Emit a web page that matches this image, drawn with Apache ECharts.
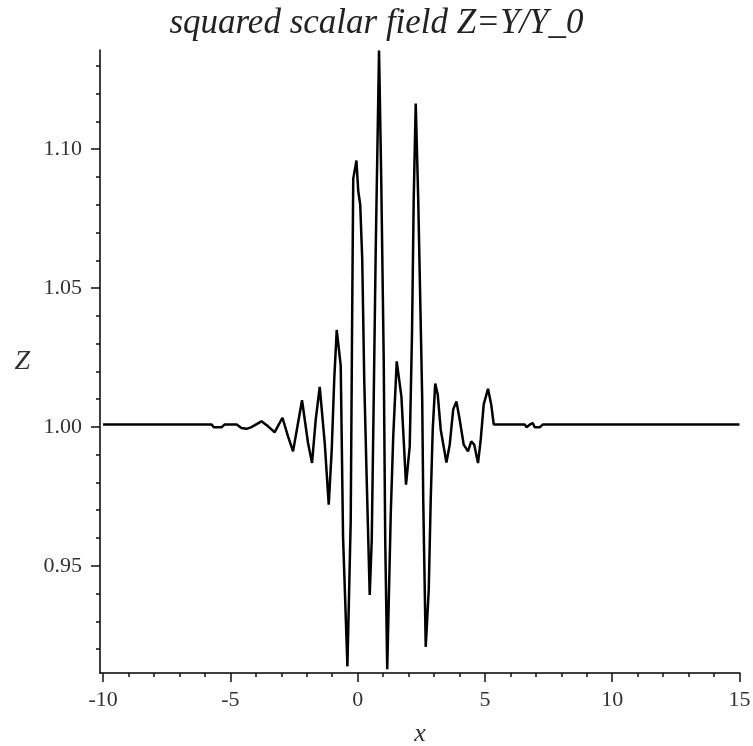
<!DOCTYPE html>
<html>
<head>
<meta charset="utf-8">
<script src="https://cdn.jsdelivr.net/npm/echarts@6/dist/echarts.min.js"></script>
<style>
  html, body { margin: 0; padding: 0; background: #fff; }
  #chart { width: 753px; height: 746px; }
</style>
</head>
<body>
<div id="chart"></div>
<script>
// ---- data ----
const xValues = [-10, -5.742, -5.65, -5.34, -5.22, -4.75, -4.564, -4.368, -4.171, -3.778,
  -3.519, -3.256, -2.954, -2.734, -2.537, -2.353, -2.184, -1.948, -1.791, -1.646,
  -1.489, -1.292, -1.135, -1.017, -0.919, -0.821, -0.664, -0.573, -0.401, -0.271,
  -0.220, -0.173, -0.047, 0.024, 0.102, 0.181, 0.259, 0.357, 0.475, 0.554,
  0.632, 0.711, 0.841, 0.927, 1.025, 1.084, 1.163, 1.300, 1.398, 1.536,
  1.720, 1.901, 2.046, 2.137, 2.203, 2.282, 2.380, 2.459, 2.537, 2.577,
  2.675, 2.793, 2.871, 2.950, 3.048, 3.146, 3.264, 3.488, 3.617, 3.755,
  3.881, 4.010, 4.167, 4.336, 4.462, 4.580, 4.729, 4.835, 4.953, 5.122,
  5.247, 5.346, 6.563, 6.630, 6.760, 6.878, 6.956, 7.153, 7.282, 15];
const zValues = [1.0009, 1.0009, 0.9999, 0.9999, 1.0009, 1.0009, 0.9996, 0.9993, 0.9999, 1.0020,
  1.0002, 0.9981, 1.0033, 0.9966, 0.9912, 1.0008, 1.0096, 0.9942, 0.9870, 1.0026,
  1.0144, 0.9942, 0.9720, 0.9918, 1.0171, 1.0349, 1.0221, 0.9605, 0.9138, 0.9665,
  1.0333, 1.0893, 1.0959, 1.0850, 1.0800, 1.0604, 1.0171, 0.9810, 0.9395, 0.9593,
  1.0099, 1.0640, 1.1355, 1.0893, 1.0243, 0.9593, 0.9128, 0.9683, 0.9965, 1.0236,
  1.0109, 0.9792, 0.9929, 1.0340, 1.0821, 1.1164, 1.0821, 1.0460, 1.0099, 0.9738,
  0.9208, 0.9413, 0.9738, 0.9990, 1.0156, 1.0117, 0.9990, 0.9872, 0.9936, 1.0063,
  1.0092, 1.0026, 0.9936, 0.9912, 0.9948, 0.9936, 0.9870, 0.9954, 1.0081, 1.0137,
  1.0081, 1.0009, 1.0009, 0.9999, 1.0008, 1.0014, 0.9999, 0.9999, 1.0009, 1.0009];
const xMajorTicks = [-10, -5, 0, 5, 10, 15];
const xMinorTicks = [-9, -8, -7, -6, -4, -3, -2, -1, 1, 2, 3, 4, 6, 7, 8, 9, 11, 12, 13, 14];
const yMajorTicks = [0.95, 1.00, 1.05, 1.10];
const yMinorTicks = [0.92, 0.93, 0.94, 0.96, 0.97, 0.98, 0.99, 1.01, 1.02, 1.03, 1.04,
  1.06, 1.07, 1.08, 1.09, 1.11, 1.12, 1.13];
const titleText = 'squared scalar field Z=Y/Y_0';

// ---- chart ----
const serif = '"Liberation Serif", "Times New Roman", serif';
const labelStyle = { fontFamily: serif, fontSize: 22, color: '#333' };
const xMin = -10.12, xMax = 15.02, yMin = 0.9114, yMax = 1.1357;

function minorTickAxis(min, max, pos, values) {
  return {
    type: 'value', min: min, max: max, position: pos,
    axisLine: { show: false, onZero: false },
    axisTick: { show: true, inside: false, length: 4, customValues: values, lineStyle: { color: '#111', width: 1.5 } },
    axisLabel: { show: false },
    splitLine: { show: false }
  };
}

const chart = echarts.init(document.getElementById('chart'));
chart.setOption({
  animation: false,
  backgroundColor: '#fff',
  title: {
    text: titleText, left: 'center', top: 1,
    textStyle: { fontFamily: serif, fontStyle: 'italic', fontWeight: 'normal', fontSize: 35, color: '#222' }
  },
  grid: { left: 100, right: 13, top: 50, bottom: 73, outerBoundsMode: 'none', containLabel: false },
  xAxis: [{
    type: 'value', min: xMin, max: xMax, position: 'bottom',
    name: 'x', nameLocation: 'middle', nameGap: 48,
    nameTextStyle: { fontFamily: serif, fontStyle: 'italic', fontSize: 26, color: '#333' },
    axisLine: { show: true, onZero: false, lineStyle: { color: '#000', width: 1.5 } },
    axisTick: { show: true, inside: false, length: 9, customValues: xMajorTicks, lineStyle: { color: '#111', width: 1.5 } },
    axisLabel: Object.assign({ margin: 16, customValues: xMajorTicks, formatter: v => String(Math.round(v)) }, labelStyle),
    splitLine: { show: false }
  },
  minorTickAxis(xMin, xMax, 'bottom', xMinorTicks)],
  yAxis: [{
    type: 'value', min: yMin, max: yMax, position: 'left',
    name: 'Z', nameLocation: 'middle', nameGap: 70, nameRotate: 0,
    nameTextStyle: { fontFamily: serif, fontStyle: 'italic', fontSize: 28, color: '#333' },
    axisLine: { show: true, onZero: false, lineStyle: { color: '#000', width: 1.5 } },
    axisTick: { show: true, inside: false, length: 9, customValues: yMajorTicks, lineStyle: { color: '#111', width: 1.5 } },
    axisLabel: Object.assign({ margin: 18, customValues: yMajorTicks, formatter: v => v.toFixed(2) }, labelStyle),
    splitLine: { show: false }
  },
  minorTickAxis(yMin, yMax, 'left', yMinorTicks)],
  series: [{
    type: 'line', xAxisIndex: 0, yAxisIndex: 0,
    data: xValues.map((x, i) => [x, zValues[i]]),
    showSymbol: false, clip: false,
    lineStyle: { color: '#000', width: 2.5 }
  }]
});
</script>
</body>
</html>
